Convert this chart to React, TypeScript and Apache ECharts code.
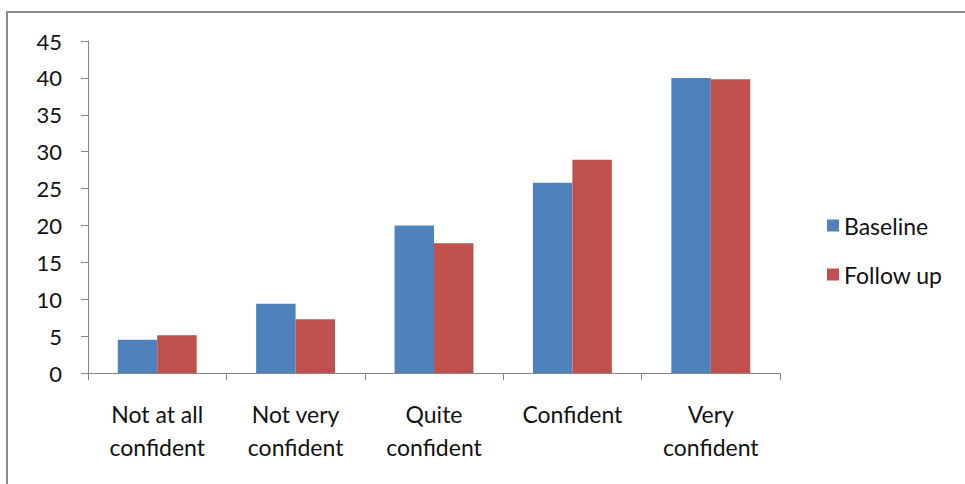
import React, { useEffect, useRef } from "react";
import * as echarts from "echarts";

const categories = ["Not at all\nconfident", "Not very\nconfident", "Quite\nconfident", "Confident", "Very\nconfident"];
const baseline = [4.5, 9.4, 20.0, 25.8, 40.0];
const followUp = [5.1, 7.3, 17.6, 28.9, 39.8];
const seriesNames = ["Baseline", "Follow up"];

const FONT = "Lato, 'Open Sans', sans-serif";

export default function App() {
  const ref = useRef<HTMLDivElement>(null);
  useEffect(() => {
    const chart = echarts.init(ref.current!, null, { renderer: "svg" });
    chart.setOption({
      animation: false,
      backgroundColor: "#ffffff",
      graphic: [
        {
          type: "rect",
          shape: { x: 7, y: 12, width: 1000, height: 500 },
          style: { fill: "none", stroke: "#8c8c8c", lineWidth: 2 },
          silent: true,
        },
      ],
      grid: { left: 88, top: 41, right: 185, bottom: 111, containLabel: false },
      legend: {
        orient: "vertical",
        left: 822,
        top: 209,
        itemWidth: 12,
        itemHeight: 12,
        itemGap: 26,
        icon: "rect",
        textStyle: { fontFamily: FONT, fontSize: 23, color: "#111", padding: [0, 0, 0, 0] },
        data: seriesNames,
      },
      xAxis: {
        type: "category",
        data: categories,
        axisLine: { lineStyle: { color: "#868686", width: 1 } },
        axisTick: { show: true, length: 7, alignWithLabel: false, lineStyle: { color: "#868686" } },
        axisLabel: { fontFamily: FONT, fontSize: 23, color: "#111", margin: 24, lineHeight: 33, interval: 0 },
      },
      yAxis: {
        type: "value",
        min: 0,
        max: 45,
        interval: 5,
        axisLine: { show: true, lineStyle: { color: "#868686", width: 1 } },
        axisTick: { show: true, length: 7, lineStyle: { color: "#868686" } },
        splitLine: { show: false },
        axisLabel: { fontFamily: FONT, fontSize: 22, color: "#111", margin: 26 },
      },
      series: [
        {
          name: seriesNames[0],
          type: "bar",
          data: baseline,
          barGap: "0%",
          barCategoryGap: "43%",
          itemStyle: { color: "#4F81BD" },
        },
        {
          name: seriesNames[1],
          type: "bar",
          data: followUp,
          barGap: "0%",
          barCategoryGap: "43%",
          itemStyle: { color: "#C0504D" },
        },
      ],
    });
    return () => chart.dispose();
  }, []);
  return <div ref={ref} style={{ position: "fixed", left: 0, top: 0, width: 965, height: 484 }} />;
}
